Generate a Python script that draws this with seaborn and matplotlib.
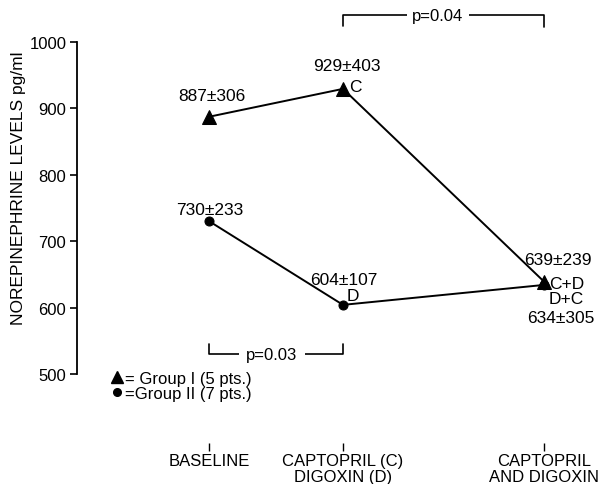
import numpy as np
import pandas as pd
import seaborn as sns
import matplotlib.pyplot as plt
from matplotlib.lines import Line2D

# ---- data ----
categories = ["BASELINE", "CAPTOPRIL (C)\nDIGOXIN (D)", "CAPTOPRIL\nAND DIGOXIN"]
group_names = ["Group I (5 pts.)", "Group II (7 pts.)"]
group1_values = [887, 929, 639]
group1_sd = [306, 403, 239]
group1_tags = ["", "C", "C+D"]
group2_values = [730, 604, 634]
group2_sd = [233, 107, 305]
group2_tags = ["", "D", "D+C"]
p_labels = ["p=0.04", "p=0.03"]
y_ticks = [500, 600, 700, 800, 900, 1000]

# ---- layout ----
x_pos = [0, 1, 2.5]

sns.set_theme(style="white", rc={"text.color": "black", "axes.labelcolor": "black",
                                 "xtick.color": "black", "ytick.color": "black"})
plt.rcParams["font.family"] = ["Liberation Sans", "DejaVu Sans"]

df = pd.DataFrame({
    "x": x_pos * 2,
    "value": group1_values + group2_values,
    "group": [group_names[0]] * 3 + [group_names[1]] * 3,
})

fig = plt.figure(figsize=(6.09, 4.85), dpi=100)
ax = fig.add_axes([0.126, 0.068, 0.874, 0.932])

sns.lineplot(data=df[df.group == group_names[0]], x="x", y="value", color="black",
             marker="^", markersize=10, markeredgecolor="black", linewidth=1.4,
             legend=False, ax=ax)
sns.lineplot(data=df[df.group == group_names[1]], x="x", y="value", color="black",
             marker="o", markersize=6.5, markeredgecolor="black", linewidth=1.4,
             legend=False, ax=ax)

ax.set_xlim(-0.987, 2.985)
ax.set_ylim(384.1, 1064.2)

# axes styling
for s in ["top", "right", "bottom"]:
    ax.spines[s].set_visible(False)
ax.spines["left"].set_bounds(500, 1000)
ax.spines["left"].set_linewidth(1.3)
ax.spines["left"].set_color("black")
ax.set_yticks(y_ticks)
ax.set_yticklabels([str(t) for t in y_ticks], fontsize=12)
ax.tick_params(axis="y", direction="out", length=5, width=1.2, color="black", pad=2.5, left=True)
ax.set_xticks(x_pos)
ax.set_xticklabels(categories, fontsize=12, linespacing=1.05)
ax.tick_params(axis="x", direction="in", length=6, width=1.0, color="black", pad=1.5, bottom=True)
ax.set_xlabel("")
ax.set_ylabel("")
ax.grid(False)

fig.text(19 / 609, 1 - 188 / 485, "NOREPINEPHRINE LEVELS pg/ml", rotation=90,
         ha="center", va="center", fontsize=12.5)

# value annotations
fs = 12.5
offs1 = [(2.5, 21), (4, 23), (14, 22)]
tag_offs1 = [None, (6, 2), (5, -2)]
offs2 = [(1, 12), (1, 25), (17, -33)]
tag_offs2 = [None, (10, 9), (5, -14)]
for i in range(3):
    ax.annotate(f"{group1_values[i]}±{group1_sd[i]}", xy=(x_pos[i], group1_values[i]),
                xytext=offs1[i], textcoords="offset pixels", ha="center", va="center", fontsize=fs)
    ax.annotate(f"{group2_values[i]}±{group2_sd[i]}", xy=(x_pos[i], group2_values[i]),
                xytext=offs2[i], textcoords="offset pixels", ha="center", va="center", fontsize=fs)
    if group1_tags[i]:
        ax.annotate(group1_tags[i], xy=(x_pos[i], group1_values[i]), xytext=tag_offs1[i],
                    textcoords="offset pixels", ha="left", va="center", fontsize=fs)
    if group2_tags[i]:
        ha = "center" if i == 1 else "left"
        ax.annotate(group2_tags[i], xy=(x_pos[i], group2_values[i]), xytext=tag_offs2[i],
                    textcoords="offset pixels", ha=ha, va="center", fontsize=fs)

# significance brackets
ax.plot([x_pos[1], x_pos[1], x_pos[2], x_pos[2]], [1024, 1040, 1040, 1022],
        color="black", lw=1.2, clip_on=False)
ax.text(1.709, 1040, p_labels[0], ha="center", va="center", fontsize=12,
        bbox=dict(facecolor="white", edgecolor="none", pad=4))
ax.plot([x_pos[0], x_pos[0], x_pos[1], x_pos[1]], [545, 530, 530, 545],
        color="black", lw=1.2, clip_on=False)
ax.text(0.47, 530, p_labels[1], ha="center", va="center", fontsize=12,
        bbox=dict(facecolor="white", edgecolor="none", pad=5))

# legend
handles = [Line2D([], [], marker="^", color="black", linestyle="none", markersize=9),
           Line2D([], [], marker="o", color="black", linestyle="none", markersize=5.5)]
ax.legend(handles, ["= " + group_names[0], "=" + group_names[1]], loc="upper left",
          bbox_to_anchor=(112 / 609, 1 - 372 / 485), bbox_transform=fig.transFigure,
          frameon=False, fontsize=12, handlelength=0.6, handletextpad=0.2,
          borderpad=0, borderaxespad=0, labelspacing=0.0)

fig.savefig("out.png", dpi=100)
